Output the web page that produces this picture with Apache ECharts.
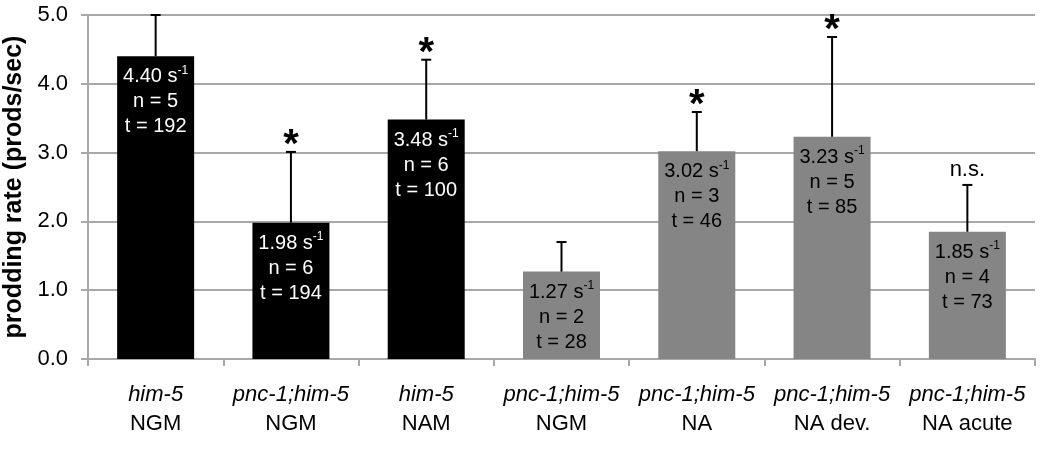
<!DOCTYPE html>
<html>
<head>
<meta charset="utf-8">
<script src="https://cdn.jsdelivr.net/npm/echarts@6/dist/echarts.min.js"></script>
<style>
  html, body { margin: 0; padding: 0; background: #fff; }
  #chart { width: 1050px; height: 451px; }
</style>
</head>
<body>
<div id="chart"></div>
<script>
// strains (italic line) and conditions (second line)
var strains = ['him-5', 'pnc-1;him-5', 'him-5', 'pnc-1;him-5', 'pnc-1;him-5', 'pnc-1;him-5', 'pnc-1;him-5'];
var conditions = ['NGM', 'NGM', 'NAM', 'NGM', 'NA', 'NA dev.', 'NA acute'];
var rates = [4.40, 1.98, 3.48, 1.27, 3.02, 3.23, 1.85];
var errUp = [0.60, 1.03, 0.87, 0.43, 0.57, 1.45, 0.68];
var nWorms = [5, 6, 6, 2, 3, 5, 4];
var tCounts = [192, 194, 100, 28, 46, 85, 73];
var signif = ['', '*', '*', '', '*', '*', 'n.s.'];
var isBlack = [true, true, true, false, false, false, false];

var FONT = '"Liberation Sans", Arial, sans-serif';
var GRAY_BAR = '#858585';
var GRID_GRAY = '#a8a8a8';

var myChart = echarts.init(document.getElementById('chart'));

var barData = rates.map(function (v, i) {
    return {
        value: v,
        itemStyle: { color: isBlack[i] ? '#000' : GRAY_BAR },
        label: { color: isBlack[i] ? '#fff' : '#000' }
    };
});

var errData = rates.map(function (v, i) {
    return [i, v, v + errUp[i]];
});

var option = {
    backgroundColor: '#fff',
    animation: false,
    grid: { left: 88, right: 15, top: 15, bottom: 92, containLabel: false, outerBoundsMode: 'none' },
    xAxis: {
        type: 'category',
        data: strains.map(function (s, i) { return s + '|' + conditions[i]; }),
        axisLine: { lineStyle: { color: GRID_GRAY, width: 2 } },
        axisTick: { show: true, length: 7, lineStyle: { color: GRID_GRAY, width: 2 } },
        axisLabel: {
            interval: 0,
            margin: 21,
            formatter: function (value) {
                var p = value.split('|');
                return '{i|' + p[0] + '}\n{n|' + p[1] + '}';
            },
            rich: {
                i: { fontFamily: FONT, fontSize: 22, fontStyle: 'italic', color: '#000', lineHeight: 29 },
                n: { fontFamily: FONT, fontSize: 22, color: '#000', lineHeight: 29 }
            }
        }
    },
    yAxis: {
        type: 'value',
        min: 0,
        max: 5,
        interval: 1,
        name: 'prodding rate (prods/sec)',
        nameLocation: 'middle',
        nameRotate: 90,
        nameGap: 58,
        nameTextStyle: { fontFamily: FONT, fontSize: 25, fontWeight: 'bold', color: '#000' },
        axisLine: { show: true, lineStyle: { color: GRID_GRAY, width: 2 } },
        axisTick: { show: true, length: 7, lineStyle: { color: GRID_GRAY, width: 2 } },
        axisLabel: {
            fontFamily: FONT,
            fontSize: 22,
            color: '#000',
            margin: 20,
            formatter: function (v) { return v.toFixed(1); }
        },
        splitLine: { show: true, lineStyle: { color: GRID_GRAY, width: 2 } }
    },
    series: [
        {
            type: 'bar',
            data: barData,
            barWidth: 77,
            label: {
                show: true,
                position: 'insideTop',
                distance: 8,
                formatter: function (p) {
                    var i = p.dataIndex;
                    return '{a|' + rates[i].toFixed(2) + ' s}{s|-1}\n{a|n = ' + nWorms[i] + '}\n{a|t = ' + tCounts[i] + '}';
                },
                rich: {
                    a: { fontFamily: FONT, fontSize: 20, lineHeight: 25 },
                    s: { fontFamily: FONT, fontSize: 12, lineHeight: 25, verticalAlign: 'top', padding: [0, 0, 10, 0] }
                }
            },
            z: 2
        },
        {
            type: 'custom',
            data: errData,
            z: 3,
            renderItem: function (params, api) {
                var i = api.value(0);
                var base = api.coord([i, api.value(1)]);
                var top = api.coord([i, api.value(2)]);
                var topY = Math.max(top[1], params.coordSys.y);
                var children = [
                    { type: 'line', shape: { x1: base[0], y1: base[1], x2: base[0], y2: topY }, style: { stroke: '#000', lineWidth: 2 } },
                    { type: 'line', shape: { x1: base[0] - 5, y1: topY, x2: base[0] + 5, y2: topY }, style: { stroke: '#000', lineWidth: 2 } }
                ];
                var s = signif[params.dataIndex];
                if (s === '*') {
                    children.push({ type: 'text', style: { text: '*', x: base[0], y: topY - 6, align: 'center', verticalAlign: 'middle', fontFamily: FONT, fontSize: 40, fontWeight: 'bold', fill: '#000' } });
                } else if (s) {
                    children.push({ type: 'text', style: { text: s, x: base[0], y: topY - 15, align: 'center', verticalAlign: 'middle', fontFamily: FONT, fontSize: 22, fill: '#000' } });
                }
                return { type: 'group', children: children };
            }
        }
    ]
};

myChart.setOption(option);
</script>
</body>
</html>
